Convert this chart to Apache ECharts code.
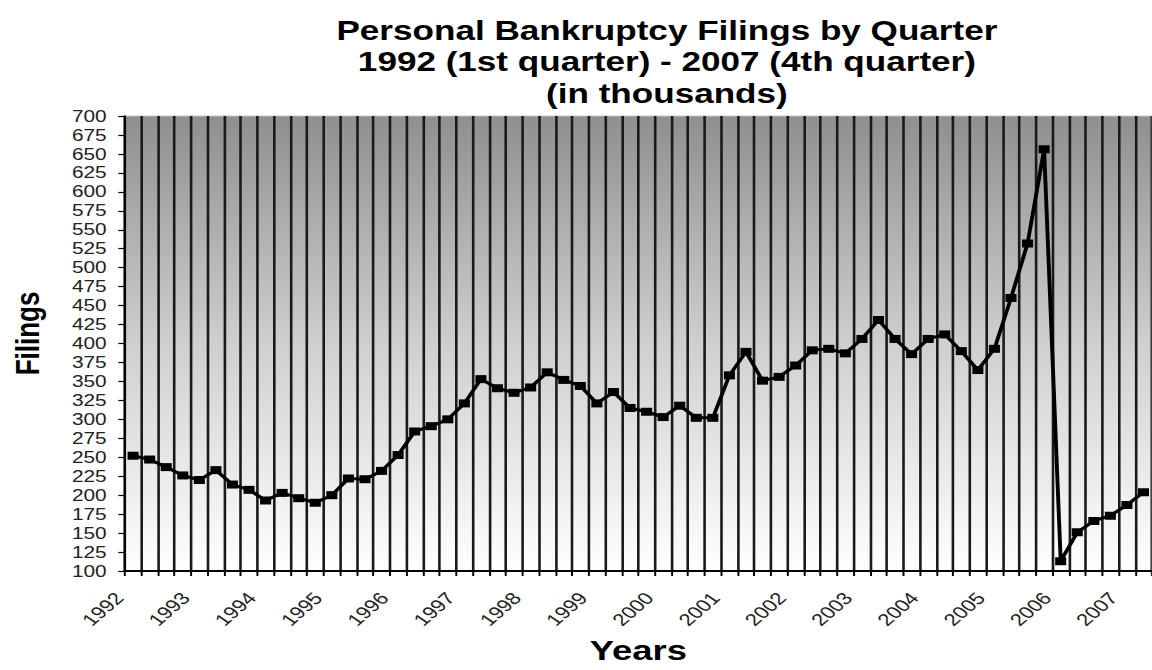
<!DOCTYPE html>
<html>
<head>
<meta charset="utf-8">
<script src="https://cdn.jsdelivr.net/npm/echarts@6/dist/echarts.min.js"></script>
<style>
  html, body { margin: 0; padding: 0; background: #ffffff; overflow: hidden; }
  #chart { width: 886px; height: 670px; transform: scaleX(1.3); transform-origin: 0 0; }
</style>
</head>
<body>
<div id="chart"></div>
<script>
// Data (thousands of filings), 1992 Q1 .. 2007 Q2 (visible part of the chart)
const years = ['1992','1993','1994','1995','1996','1997','1998','1999',
               '2000','2001','2002','2003','2004','2005','2006','2007'];
const quarters = ['Q1','Q2','Q3','Q4'];
const filings = [
  252, 247, 237, 226,   // 1992
  220, 233, 214, 207,   // 1993
  193, 203, 196, 190,   // 1994
  200, 222, 221, 232,   // 1995
  253, 284, 291, 300,   // 1996
  321, 353, 341, 335,   // 1997
  342, 362, 352, 344,   // 1998
  321, 336, 315, 310,   // 1999
  303, 318, 302, 302,   // 2000
  358, 389, 351, 356,   // 2001
  371, 391, 393, 387,   // 2002
  406, 431, 406, 386,   // 2003
  406, 412, 390, 365,   // 2004
  393, 460, 532, 656,   // 2005
  113, 151, 166, 173,   // 2006
  187, 204              // 2007
];
const yMin = 100, yMax = 700, yStep = 25;

const categories = [];
years.forEach(y => quarters.forEach(q => categories.push(y + ' ' + q)));
categories.length = filings.length;

const FONT = '"Liberation Sans", Arial, sans-serif';
const chart = echarts.init(document.getElementById('chart'), null, { renderer: 'svg' });
chart.setOption({
  animation: false,
  backgroundColor: '#ffffff',
  title: {
    text: 'Personal Bankruptcy Filings by Quarter\n1992 (1st quarter) - 2007 (4th quarter)\n(in thousands)',
    left: 508,
    textAlign: 'center',
    top: 10,
    textStyle: { fontFamily: FONT, fontWeight: 'bold', fontSize: 27, lineHeight: 31.5, color: '#000' }
  },
  grid: {
    left: 94, right: -3, top: 116, bottom: 96,
    show: true,
    borderColor: '#c8c8c8', borderWidth: 1,
    backgroundColor: {
      type: 'linear', x: 0, y: 0, x2: 0, y2: 1,
      colorStops: [
        { offset: 0, color: '#8f8f8f' },
        { offset: 0.5, color: '#cfcfcf' },
        { offset: 1, color: '#ffffff' }
      ]
    }
  },
  xAxis: {
    type: 'category',
    data: categories,
    boundaryGap: true,
    name: 'Years',
    nameLocation: 'middle',
    nameGap: 66,
    nameTextStyle: { fontFamily: FONT, fontWeight: 'bold', fontSize: 28, color: '#000' },
    axisLine: { show: true, lineStyle: { color: '#000', width: 2 } },
    axisTick: { show: true, interval: 0, length: 5, lineStyle: { color: '#000', width: 1.5 } },
    axisLabel: {
      interval: 3, rotate: 48, margin: 12,
      padding: [0, 16, 0, 0],
      fontFamily: FONT, fontSize: 17, color: '#222',
      formatter: v => v.slice(0, 4)
    },
    splitLine: { show: true, interval: 0, lineStyle: { color: '#1a1a1a', width: 2 } }
  },
  yAxis: {
    type: 'value',
    min: yMin, max: yMax, interval: yStep,
    name: 'Filings',
    nameLocation: 'middle',
    nameGap: 62,
    nameTextStyle: { fontFamily: FONT, fontWeight: 'bold', fontSize: 26, color: '#000', padding: [0, 0, 0, 20] },
    axisLine: { show: true, lineStyle: { color: '#000', width: 1.5 } },
    axisTick: { show: true, length: 5, lineStyle: { color: '#000', width: 1.2 } },
    axisLabel: { margin: 14, fontFamily: FONT, fontSize: 16, color: '#222' },
    splitLine: { show: false }
  },
  series: [{
    type: 'line',
    data: filings,
    symbol: 'rect',
    symbolSize: [8.5, 8],
    showAllSymbol: true,
    lineStyle: { color: '#000', width: 3 },
    itemStyle: { color: '#000' },
    z: 5
  }]
});
</script>
</body>
</html>
